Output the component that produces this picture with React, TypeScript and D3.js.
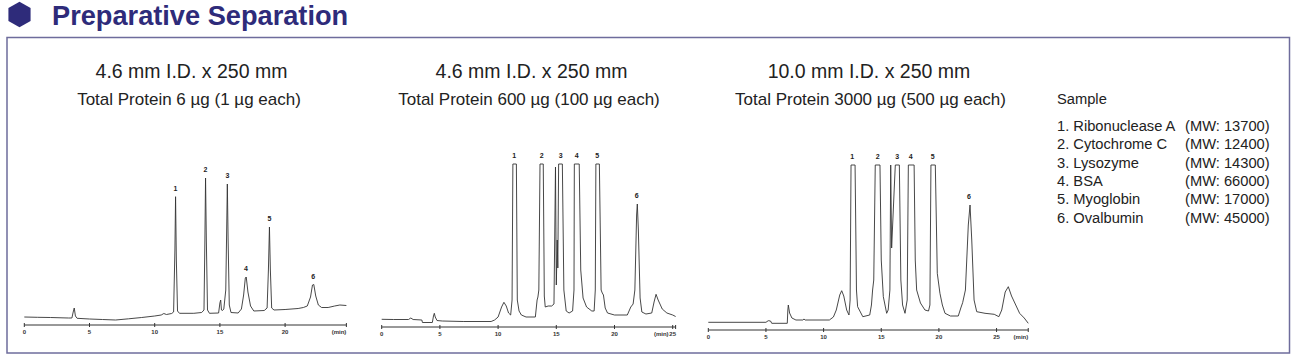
import React from "react";
import * as d3 from "d3";

type Pt = [number, number];

// detector signal (mV) against retention time (min)
const trace6ug: Pt[] = [
  [0, 8], [1, 7.7], [2, 7.5], [3.4, 7], [3.65, 7], [3.75, 13], [3.83, 17], [3.92, 9], [4.05, 6.7],
  [5, 6], [6, 5.5], [7, 5], [8, 6.2], [9, 7.5], [10, 9], [10.5, 10], [10.7, 11.5], [10.9, 10.5],
  [11.3, 11.5], [11.45, 13], [11.55, 75], [11.6, 128.3], [11.66, 65], [11.75, 14], [11.9, 11.7],
  [13.0, 11.7], [13.6, 12.5], [13.78, 15], [13.85, 85], [13.9, 147], [13.96, 85], [14.05, 15],
  [14.2, 11.7], [14.9, 12], [15.0, 22], [15.06, 25], [15.12, 15], [15.2, 14.5], [15.3, 16],
  [15.45, 35], [15.52, 95], [15.57, 141], [15.63, 85], [15.72, 20], [15.85, 12.5], [16.4, 12],
  [16.65, 16], [16.82, 30], [16.95, 47], [17.02, 48], [17.15, 33], [17.35, 19], [17.6, 14],
  [18.4, 14.5], [18.62, 17], [18.72, 55], [18.8, 98], [18.87, 55], [18.97, 17], [19.15, 15],
  [20, 15.5], [21, 16.5], [21.4, 17.5], [21.7, 19], [21.95, 28], [22.1, 40], [22.2, 40.5],
  [22.35, 29], [22.55, 20], [22.8, 17.5], [23.3, 17.5], [23.8, 19], [24.2, 20], [24.7, 19.5],
];

const trace600ug: Pt[] = [
  [0, 7.7], [1, 7.5], [2.3, 7.5], [2.5, 9], [2.7, 7.5], [3.45, 7], [3.5, 4.5], [4.35, 4.5],
  [4.45, 11], [4.52, 13.7], [4.6, 10], [4.75, 6.5], [5.2, 6], [7, 5.5], [9.4, 5.5], [9.7, 7],
  [10.0, 10], [10.3, 20], [10.5, 24.7], [10.7, 21], [10.9, 14], [11.08, 12], [11.2, 27],
  [11.27, 163], [11.57, 163], [11.65, 27], [11.8, 16], [12.0, 12], [12.4, 10], [13.2, 10],
  [13.35, 27], [13.42, 30], [13.5, 37], [13.6, 163], [13.88, 163], [13.97, 31], [14.05, 20],
  [14.3, 21], [14.6, 21], [14.8, 23], [14.93, 160], [15.0, 42], [15.08, 87], [15.13, 59],
  [15.2, 163], [15.52, 163], [15.65, 37], [15.85, 16], [16.1, 14], [16.4, 16], [16.52, 37],
  [16.55, 163], [16.97, 163], [17.1, 57], [17.3, 29], [17.6, 20], [18.05, 16], [18.25, 16],
  [18.35, 37], [18.4, 163], [18.7, 163], [18.85, 37], [18.95, 34], [19.05, 32], [19.2, 19],
  [19.4, 14], [20, 12], [21.1, 12], [21.4, 20], [21.6, 23], [21.75, 37], [21.9, 112],
  [21.96, 123], [22.05, 97], [22.2, 29], [22.35, 15], [22.7, 13], [23.2, 14], [23.4, 25],
  [23.57, 32.7], [23.75, 27], [24.1, 18], [24.5, 14], [25.0, 12], [25.25, 10.5],
];

const trace3000ug: Pt[] = [
  [0, 7.7], [5.0, 7.7], [5.2, 9.3], [5.4, 9], [5.5, 6.7], [6.85, 6.7], [6.9, 20], [6.94, 25],
  [7.05, 17], [7.25, 12], [7.6, 10], [8.2, 10], [8.3, 11], [8.4, 10], [10.5, 10], [10.85, 13],
  [11.1, 20], [11.4, 35], [11.57, 39.3], [11.75, 34], [12.0, 20], [12.2, 15], [12.3, 30],
  [12.38, 165], [12.73, 165], [12.85, 40], [12.95, 23.3], [13.4, 13.3], [14.0, 15], [14.15, 25],
  [14.25, 40], [14.35, 50], [14.48, 165], [14.89, 165], [15.0, 70], [15.18, 33.3], [15.47, 16.7],
  [15.6, 20], [15.75, 40], [15.82, 165], [15.9, 82], [16.14, 145], [16.22, 165], [16.57, 165],
  [16.7, 50], [16.85, 25], [17.06, 16.7], [17.25, 30], [17.35, 165], [17.85, 165], [17.95, 70],
  [18.07, 40], [18.4, 27], [18.79, 20], [19.1, 19], [19.22, 25], [19.31, 165], [19.69, 165],
  [19.86, 56.7], [20.09, 36.7], [20.3, 25], [20.53, 16.7], [21.0, 14], [21.68, 14], [21.9, 22],
  [22.06, 27.3], [22.3, 40], [22.55, 105], [22.7, 125], [22.85, 90], [23.05, 30], [23.28, 18.3],
  [24.0, 16.7], [24.8, 15.7], [25.2, 13.3], [25.45, 20], [25.75, 38], [26.02, 43.3], [26.3, 34],
  [27.0, 16.7], [27.4, 12], [27.75, 6.7],
];

const peakNames = ["1", "2", "3", "4", "5", "6"];
const peakTimes6ug = [11.6, 13.9, 15.57, 17.0, 18.8, 22.16];
const peakTops6ug = [128.3, 147, 141, 48, 98, 40.5];
const peakTimes600ug = [11.39, 13.75, 15.38, 16.75, 18.52, 21.91];
const peakTops600ug = [163, 163, 163, 163, 163, 123];
const peakTimes3000ug = [12.49, 14.69, 16.39, 17.55, 19.46, 22.61];
const peakTops3000ug = [165, 165, 165, 165, 165, 125];

const ticks6ug = [0, 5, 10, 15, 20];
const ticks600ug = [0, 5, 10, 15, 20, 25];
const ticks3000ug = [0, 5, 10, 15, 20, 25];

const columnTitles = ["4.6 mm I.D. x 250 mm", "4.6 mm I.D. x 250 mm", "10.0 mm I.D. x 250 mm"];
const columnSubtitles = [
  "Total Protein 6 µg (1 µg each)",
  "Total Protein 600 µg (100 µg each)",
  "Total Protein 3000 µg (500 µg each)",
];

const sampleNames = ["1. Ribonuclease A", "2. Cytochrome C", "3. Lysozyme", "4. BSA", "5. Myoglobin", "6. Ovalbumin"];
const sampleMW = ["(MW: 13700)", "(MW: 12400)", "(MW: 14300)", "(MW: 66000)", "(MW: 17000)", "(MW: 45000)"];

const FONT = "'Liberation Sans', Arial, Helvetica, sans-serif";
const NAVY = "#2e2b7a";

interface PanelProps {
  trace: Pt[];
  times: number[];
  tops: number[];
  ticks: number[];
  left: number;
  pxPerMin: number;
  axisY: number;
  title: string;
  subtitle: string;
  titleX: number;
  subX: number;
  minGap: number;
}

const Panel: React.FC<PanelProps> = (p) => {
  const tMax = p.trace[p.trace.length - 1][0];
  const x = d3.scaleLinear().domain([0, tMax]).range([p.left, p.left + p.pxPerMin * tMax]);
  const y = d3.scaleLinear().domain([0, 165]).range([p.axisY, p.axisY - 165]);
  const line = d3.line<Pt>().x((d) => x(d[0])).y((d) => y(d[1]));

  return (
    <g fontFamily={FONT}>
      <text x={p.titleX} y={78} fontSize={19.5} textAnchor="middle" fill="#222">{p.title}</text>
      <text x={p.subX} y={105} fontSize={17} textAnchor="middle" fill="#222">{p.subtitle}</text>
      <path d={line(p.trace) ?? ""} fill="none" stroke="#333" strokeWidth={0.9} strokeLinejoin="round" />
      {p.times.map((t, i) => (
        <text key={i} x={x(t)} y={y(p.tops[i]) - 6} fontSize={7} fontWeight="bold" textAnchor="middle" fill="#222">
          {peakNames[i]}
        </text>
      ))}
      <line x1={x(0)} x2={x(tMax)} y1={p.axisY} y2={p.axisY} stroke="#333" strokeWidth={1} />
      {p.ticks.map((t) => (
        <g key={t}>
          <line x1={x(t)} x2={x(t)} y1={p.axisY - 2} y2={p.axisY + 2} stroke="#333" strokeWidth={1} />
          <text x={x(t)} y={p.axisY + 9} fontSize={6} fontWeight="bold" textAnchor="middle" fill="#333">{t}</text>
        </g>
      ))}
      <line x1={x(tMax)} x2={x(tMax)} y1={p.axisY - 2} y2={p.axisY + 2} stroke="#333" strokeWidth={1} />
      <text x={x(tMax) - p.minGap} y={p.axisY + 9} fontSize={6} fontWeight="bold" textAnchor="end" fill="#333">(min)</text>
    </g>
  );
};

const App: React.FC = () => {
  const hex = d3.range(6).map((k) => {
    const a = (Math.PI / 180) * (-90 + 60 * k);
    return [19.5 + 12.8 * Math.cos(a), 14.5 + 12.8 * Math.sin(a)].join(",");
  }).join(" ");

  return (
    <svg width={1292} height={355} style={{ position: "absolute", left: 0, top: 0, background: "#fff" }}>
      <polygon points={hex} fill={NAVY} />
      <text x={52} y={25} fontFamily={FONT} fontSize={27.2} fontWeight="bold" fill={NAVY}>Preparative Separation</text>
      <rect x={7} y={37.5} width={1282.5} height={315.5} fill="none" stroke="#6e6c9c" strokeWidth={1.5} />

      <Panel trace={trace6ug} times={peakTimes6ug} tops={peakTops6ug} ticks={ticks6ug}
        left={24.3} pxPerMin={13.04} axisY={325} title={columnTitles[0]} subtitle={columnSubtitles[0]}
        titleX={191.5} subX={189} minGap={0} />
      <Panel trace={trace600ug} times={peakTimes600ug} tops={peakTops600ug} ticks={ticks600ug}
        left={381.7} pxPerMin={11.64} axisY={327} title={columnTitles[1]} subtitle={columnSubtitles[1]}
        titleX={531.5} subX={529} minGap={7} />
      <Panel trace={trace3000ug} times={peakTimes3000ug} tops={peakTops3000ug} ticks={ticks3000ug}
        left={708.3} pxPerMin={11.53} axisY={330} title={columnTitles[2]} subtitle={columnSubtitles[2]}
        titleX={869} subX={870.5} minGap={0} />

      <g fontFamily={FONT} fontSize={14.7} fill="#222">
        <text x={1057} y={104}>Sample</text>
        {sampleNames.map((n, i) => (
          <g key={n}>
            <text x={1057} y={130.7 + i * 18.4}>{n}</text>
            <text x={1185} y={130.7 + i * 18.4}>{sampleMW[i]}</text>
          </g>
        ))}
      </g>
    </svg>
  );
};

export default App;
